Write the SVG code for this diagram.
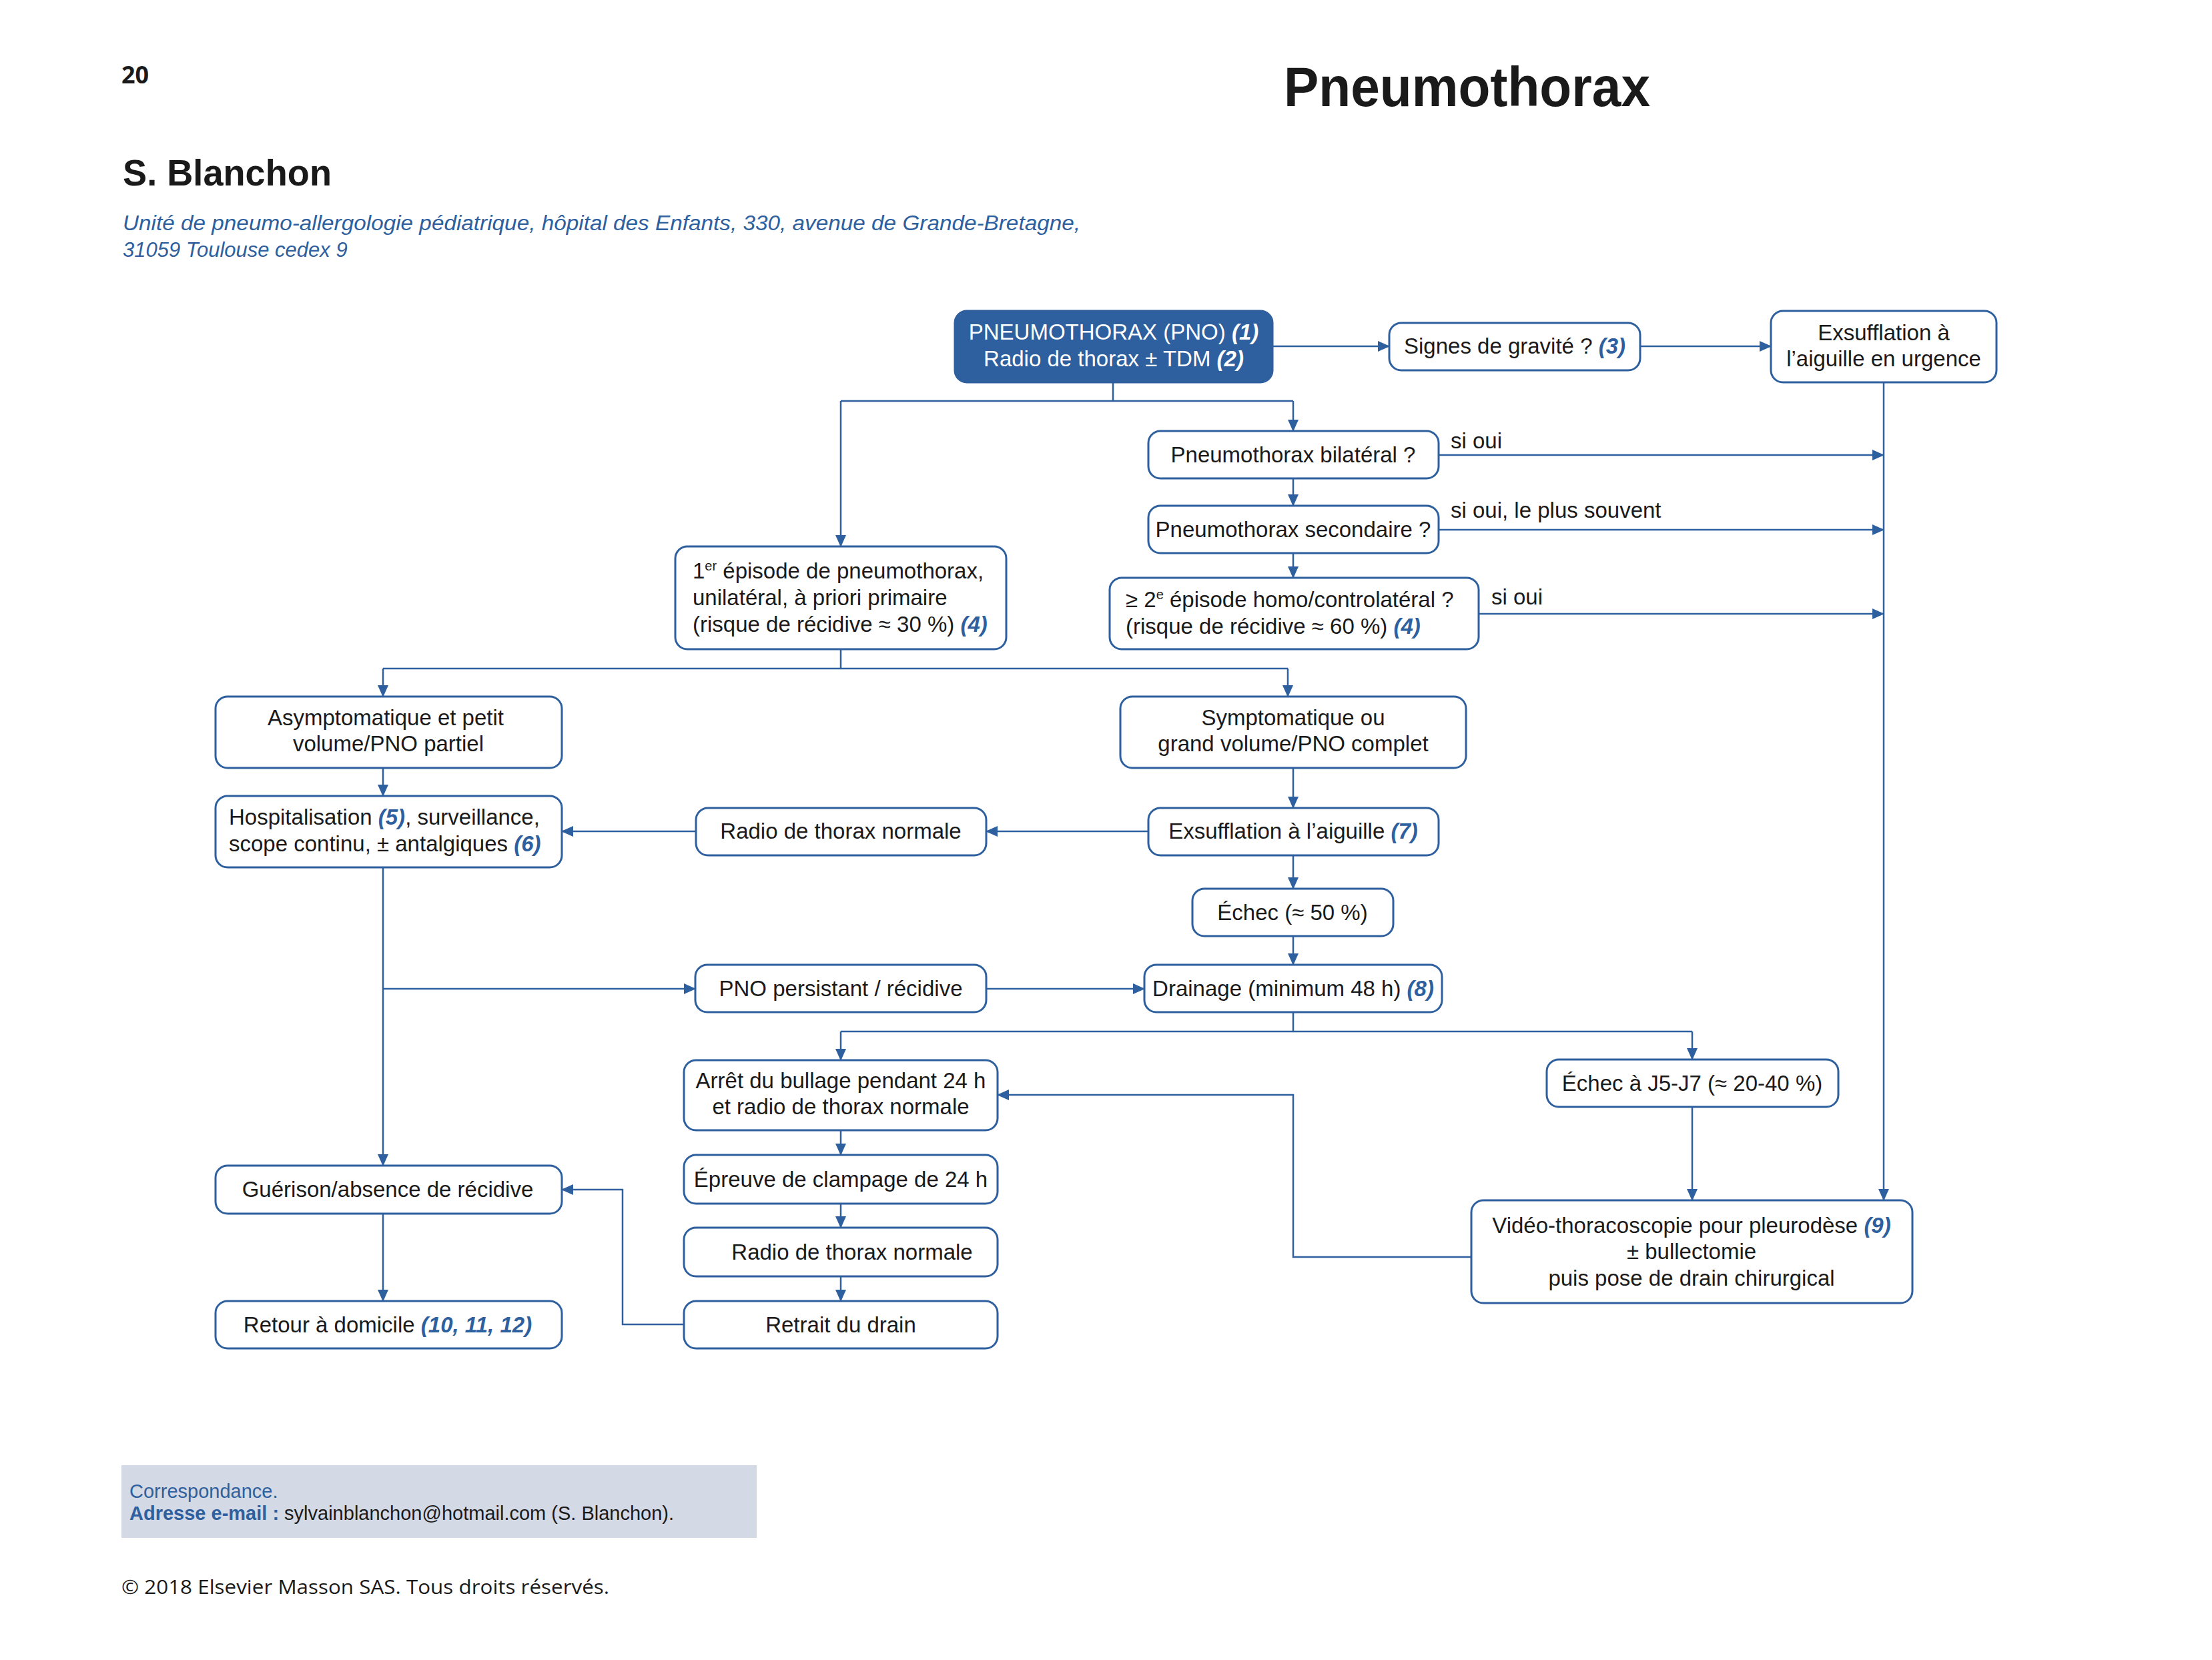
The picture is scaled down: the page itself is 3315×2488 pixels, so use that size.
<svg xmlns="http://www.w3.org/2000/svg" width="3315" height="2488" viewBox="0 0 3315 2488">
<style>
text{font-family:"Liberation Sans",Arial,sans-serif;fill:#1a1a1a}
.t{font-size:33px}
.c{text-anchor:middle}
.ref{fill:#2e5f9e;font-weight:bold;font-style:italic}
.box{fill:#fff;stroke:#2e5f9e;stroke-width:3}
.main{fill:#2e5f9e;stroke:#2e5f9e;stroke-width:3}
.w{fill:#fff}
.wr{fill:#fff;font-weight:bold;font-style:italic}
.ln{fill:none;stroke:#2e5f9e;stroke-width:2.5}
.ar{fill:none;stroke:#2e5f9e;stroke-width:2.5;marker-end:url(#ah)}
.sup{font-size:20px}
</style>
<defs>
<marker id="ah" viewBox="0 0 18 16" refX="17" refY="8" markerWidth="18" markerHeight="16" markerUnits="userSpaceOnUse" orient="auto">
<path d="M0,0 L18,8 L0,16 z" fill="#2e5f9e"/>
</marker>
</defs>
<rect width="3315" height="2488" fill="#fff"/>
<g id="header">
<text x="182" y="125" style="font-family:'Open Sans',sans-serif;font-weight:bold;font-size:36px">20</text>
<text x="1924" y="159" style="font-weight:bold;font-size:84px" textLength="549" lengthAdjust="spacingAndGlyphs">Pneumothorax</text>
<text x="184" y="278" style="font-weight:bold;font-size:56px" textLength="313" lengthAdjust="spacingAndGlyphs">S. Blanchon</text>
<text x="184" y="345" style="font-style:italic;font-size:31px;fill:#2e5f9e" textLength="1435" lengthAdjust="spacingAndGlyphs">Unité de pneumo-allergologie pédiatrique, hôpital des Enfants, 330, avenue de Grande-Bretagne,</text>
<text x="184" y="385" style="font-style:italic;font-size:31px;fill:#2e5f9e">31059 Toulouse cedex 9</text>
</g>
<g id="connectors">
<path class="ar" d="M1907,519 H2082"/>
<path class="ar" d="M2458,519 H2654"/>
<path class="ar" d="M2823,573 V1799"/>
<path class="ar" d="M2156,682 H2823"/>
<path class="ar" d="M2156,794 H2823"/>
<path class="ar" d="M2216,920 H2823"/>
<path class="ln" d="M1668,573 V601 M1260,601 H1938"/>
<path class="ar" d="M1938,601 V646"/>
<path class="ar" d="M1260,601 V819"/>
<path class="ar" d="M1938,717 V758"/>
<path class="ar" d="M1938,829 V866"/>
<path class="ln" d="M1260,973 V1002 M574,1002 H1930"/>
<path class="ar" d="M574,1002 V1044"/>
<path class="ar" d="M1930,1002 V1044"/>
<path class="ar" d="M574,1151 V1193"/>
<path class="ar" d="M1938,1151 V1211"/>
<path class="ar" d="M1721,1246 H1478"/>
<path class="ar" d="M1043,1246 H842"/>
<path class="ar" d="M1938,1282 V1332"/>
<path class="ar" d="M1938,1403 V1446"/>
<path class="ar" d="M574,1300 V1747"/>
<path class="ar" d="M574,1482 H1042"/>
<path class="ar" d="M1478,1482 H1715"/>
<path class="ln" d="M1938,1517 V1546 M1260,1546 H2536"/>
<path class="ar" d="M1260,1546 V1589"/>
<path class="ar" d="M2536,1546 V1588"/>
<path class="ar" d="M2536,1659 V1799"/>
<path class="ar" d="M2205,1884 H1938 V1641 H1495"/>
<path class="ar" d="M1260,1694 V1731"/>
<path class="ar" d="M1260,1804 V1840"/>
<path class="ar" d="M1260,1913 V1950"/>
<path class="ar" d="M1025,1985 H933 V1783 H842"/>
<path class="ar" d="M574,1819 V1950"/>
</g>
<g id="labels">
<text class="t" x="2174" y="672">si oui</text>
<text class="t" x="2174" y="776">si oui, le plus souvent</text>
<text class="t" x="2235" y="906">si oui</text>
</g>
<g id="n1">
<rect class="main" x="1431" y="466" width="476" height="107" rx="18"/>
<text class="t c w" x="1669" y="509">PNEUMOTHORAX (PNO) <tspan class="wr">(1)</tspan></text>
<text class="t c w" x="1669" y="549">Radio de thorax ± TDM <tspan class="wr">(2)</tspan></text>
</g>
<g id="n2">
<rect class="box" x="2082" y="484" width="376" height="71" rx="18"/>
<text class="t c" x="2270" y="530">Signes de gravité ? <tspan class="ref">(3)</tspan></text>
</g>
<g id="n3">
<rect class="box" x="2654" y="466" width="338" height="107" rx="18"/>
<text class="t c" x="2823" y="510">Exsufflation à</text>
<text class="t c" x="2823" y="549">l’aiguille en urgence</text>
</g>
<g id="n4">
<rect class="box" x="1721" y="646" width="435" height="71" rx="18"/>
<text class="t c" x="1938" y="693">Pneumothorax bilatéral ?</text>
</g>
<g id="n5">
<rect class="box" x="1721" y="758" width="435" height="71" rx="18"/>
<text class="t c" x="1938" y="805">Pneumothorax secondaire ?</text>
</g>
<g id="n6">
<rect class="box" x="1663" y="866" width="553" height="107" rx="18"/>
<text class="t" x="1687" y="910">≥ 2<tspan class="sup" dy="-12">e</tspan><tspan dy="12"> épisode homo/controlatéral ?</tspan></text>
<text class="t" x="1687" y="950">(risque de récidive ≈ 60 %) <tspan class="ref">(4)</tspan></text>
</g>
<g id="n7">
<rect class="box" x="1012" y="819" width="496" height="154" rx="18"/>
<text class="t" x="1038" y="867">1<tspan class="sup" dy="-12">er</tspan><tspan dy="12"> épisode de pneumothorax,</tspan></text>
<text class="t" x="1038" y="907">unilatéral, à priori primaire</text>
<text class="t" x="1038" y="947">(risque de récidive ≈ 30 %) <tspan class="ref">(4)</tspan></text>
</g>
<g id="n8">
<rect class="box" x="323" y="1044" width="519" height="107" rx="18"/>
<text class="t c" x="578" y="1087">Asymptomatique et petit</text>
<text class="t c" x="582" y="1126">volume/PNO partiel</text>
</g>
<g id="n9">
<rect class="box" x="1679" y="1044" width="518" height="107" rx="18"/>
<text class="t c" x="1938" y="1087">Symptomatique ou</text>
<text class="t c" x="1938" y="1126">grand volume/PNO complet</text>
</g>
<g id="n10">
<rect class="box" x="1721" y="1211" width="435" height="71" rx="18"/>
<text class="t c" x="1938" y="1257">Exsufflation à l’aiguille <tspan class="ref">(7)</tspan></text>
</g>
<g id="n11">
<rect class="box" x="1043" y="1211" width="435" height="71" rx="18"/>
<text class="t c" x="1260" y="1257">Radio de thorax normale</text>
</g>
<g id="n12">
<rect class="box" x="323" y="1193" width="519" height="107" rx="18"/>
<text class="t" x="343" y="1236">Hospitalisation <tspan class="ref">(5)</tspan>, surveillance,</text>
<text class="t" x="343" y="1276">scope continu, ± antalgiques <tspan class="ref">(6)</tspan></text>
</g>
<g id="n15">
<rect class="box" x="1787" y="1332" width="301" height="71" rx="18"/>
<text class="t c" x="1937" y="1379">Échec (≈ 50 %)</text>
</g>
<g id="n13">
<rect class="box" x="1042" y="1446" width="436" height="71" rx="18"/>
<text class="t c" x="1260" y="1493">PNO persistant / récidive</text>
</g>
<g id="n14">
<rect class="box" x="1715" y="1446" width="446" height="71" rx="18"/>
<text class="t c" x="1938" y="1493">Drainage (minimum 48 h) <tspan class="ref">(8)</tspan></text>
</g>
<g id="n16">
<rect class="box" x="1025" y="1589" width="470" height="105" rx="18"/>
<text class="t c" x="1260" y="1631">Arrêt du bullage pendant 24 h</text>
<text class="t c" x="1260" y="1670">et radio de thorax normale</text>
</g>
<g id="n17">
<rect class="box" x="2318" y="1588" width="437" height="71" rx="18"/>
<text class="t c" x="2536" y="1635">Échec à J5-J7 (≈ 20-40 %)</text>
</g>
<g id="n19">
<rect class="box" x="1025" y="1731" width="470" height="73" rx="18"/>
<text class="t c" x="1260" y="1779">Épreuve de clampage de 24 h</text>
</g>
<g id="n20">
<rect class="box" x="1025" y="1840" width="470" height="73" rx="18"/>
<text class="t c" x="1277" y="1888">Radio de thorax normale</text>
</g>
<g id="n21">
<rect class="box" x="1025" y="1950" width="470" height="71" rx="18"/>
<text class="t c" x="1260" y="1997">Retrait du drain</text>
</g>
<g id="n22">
<rect class="box" x="323" y="1747" width="519" height="72" rx="18"/>
<text class="t c" x="581" y="1794">Guérison/absence de récidive</text>
</g>
<g id="n23">
<rect class="box" x="323" y="1950" width="519" height="71" rx="18"/>
<text class="t c" x="581" y="1997">Retour à domicile <tspan class="ref">(10, 11, 12)</tspan></text>
</g>
<g id="n18">
<rect class="box" x="2205" y="1799" width="661" height="154" rx="18"/>
<text class="t c" x="2535" y="1848">Vidéo-thoracoscopie pour pleurodèse <tspan class="ref">(9)</tspan></text>
<text class="t c" x="2535" y="1887">± bullectomie</text>
<text class="t c" x="2535" y="1927">puis pose de drain chirurgical</text>
</g>
<g id="footer">
<rect x="182" y="2196" width="952" height="109" fill="#d3d9e5"/>
<text x="194" y="2245" style="font-size:29px;fill:#2e5f9e">Correspondance.</text>
<text x="194" y="2278" style="font-size:29px"><tspan style="fill:#2e5f9e;font-weight:bold">Adresse e-mail : </tspan>sylvainblanchon@hotmail.com (S. Blanchon).</text>
<text x="182" y="2389" style="font-family:'Open Sans',sans-serif;font-size:29px" textLength="731" lengthAdjust="spacingAndGlyphs">© 2018 Elsevier Masson SAS. Tous droits réservés.</text>
</g>
</svg>
